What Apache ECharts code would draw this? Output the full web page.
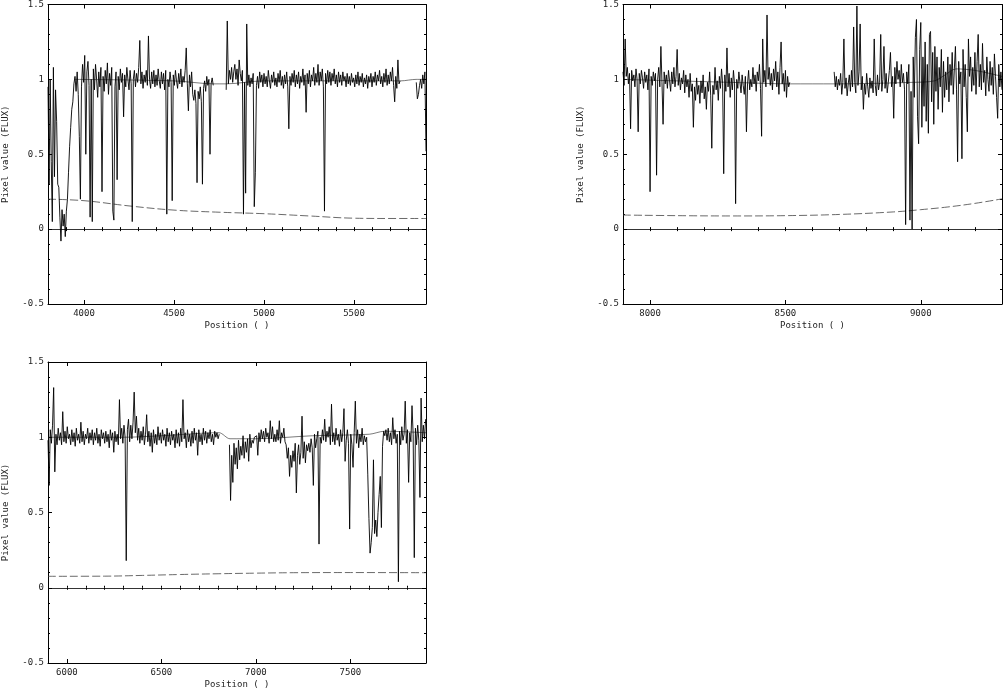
<!DOCTYPE html>
<html>
<head>
<meta charset="utf-8">
<title>Spectrum</title>
<script src="https://cdn.jsdelivr.net/npm/echarts@6/dist/echarts.min.js"></script>
<style>
  html, body { margin: 0; padding: 0; background: #fff; }
  #chart { width: 1003px; height: 690px; }
</style>
</head>
<body>
<div id="chart"></div>
<script>
// sampling grid of each panel (wavelength start / step)
var blueStart = 3800, blueStep = 6;
var redStart = 7900, redStep = 4;
var midStart = 5900, midStep = 6;

// flux, null = no data
var blueFlux = [
  0.95, 0.30, 1.00, 0.45, 0.05, 1.08, 0.35, 0.93, 0.72, 0.30,
  0.28, 0.08, -0.08, 0.13, 0.02, 0.10, -0.05, 0.12, 0.20, 0.38,
  0.55, 0.68, 0.80, 0.85, 0.97, 1.02, 0.92, 1.05, 0.90, 0.62,
  0.20, 0.95, 1.10, 0.98, 1.16, 0.50, 1.05, 1.12, 0.96, 0.08,
  1.00, 0.05, 1.07, 0.93, 1.10, 1.00, 0.88, 1.05, 0.95, 1.08,
  0.25, 1.02, 0.92, 1.06, 0.97, 1.11, 0.90, 1.04, 0.96, 1.08,
  0.12, 0.06, 0.95, 1.05, 0.33, 1.02, 0.93, 1.07, 0.98, 1.04,
  0.75, 1.03, 0.95, 1.08, 1.00, 0.93, 1.06, 0.97, 0.05, 1.00,
  1.06, 0.95, 1.04, 0.98, 1.08, 1.26, 0.97, 1.05, 0.94, 1.03,
  0.98, 1.06, 0.96, 1.29, 1.00, 0.94, 1.05, 0.97, 1.06, 0.95,
  1.03, 0.96, 1.07, 0.99, 0.94, 1.05, 0.97, 1.04, 0.93, 1.06,
  0.10, 1.00, 0.95, 1.05, 0.98, 0.19, 1.03, 0.96, 1.06, 0.99,
  0.94, 1.04, 0.97, 1.07, 0.95, 1.02, 0.98, 1.06, 1.21, 0.97,
  0.79, 1.03, 0.95, 1.05, 0.90, 0.86, 0.93, 0.84, 0.31, 0.92,
  0.87, 0.95, 0.85, 0.30, 0.94, 0.99, 0.92, 1.02, 0.96, 1.00,
  0.50, 0.97, 1.01, 0.96, null, null, null, null, null, null,
  null, null, null, null, null, 0.93, 1.39, 0.97, 1.06, 1.00,
  1.08, 0.98, 1.05, 1.10, 1.00, 1.07, 0.96, 1.13, 1.04, 0.99,
  1.06, 0.10, 0.98, 0.24, 1.37, 0.96, 1.03, 0.95, 1.01, 0.97,
  1.04, 0.15, 0.38, 0.96, 1.02, 0.94, 1.05, 0.98, 1.03, 0.95,
  1.04, 0.97, 1.02, 0.95, 1.06, 0.99, 0.94, 1.03, 0.98, 1.05,
  0.96, 1.01, 0.95, 1.04, 0.98, 1.06, 0.96, 1.02, 0.94, 1.03,
  0.97, 1.05, 0.95, 0.67, 1.02, 0.96, 1.04, 0.98, 1.06, 0.95,
  1.03, 0.97, 1.05, 0.94, 1.02, 0.98, 1.07, 0.96, 1.03, 0.78,
  1.04, 0.97, 1.06, 0.95, 1.03, 0.99, 1.08, 0.96, 1.04, 0.98,
  1.10, 0.96, 1.05, 0.99, 1.07, 0.95, 0.12, 1.04, 0.97, 1.06,
  0.98, 1.05, 0.96, 1.04, 0.99, 1.07, 0.97, 1.03, 0.95, 1.05,
  0.98, 1.03, 0.96, 1.05, 0.99, 1.02, 0.95, 1.04, 0.97, 1.02,
  0.96, 1.04, 0.98, 1.01, 0.95, 1.03, 0.97, 1.05, 0.96, 1.02,
  0.98, 1.04, 0.95, 1.01, 0.97, 1.03, 0.94, 1.02, 0.98, 1.04,
  0.95, 1.02, 0.98, 1.05, 0.96, 1.03, 0.99, 1.06, 0.97, 1.02,
  0.95, 1.04, 0.98, 1.07, 0.96, 1.03, 0.97, 1.05, 0.99, 1.08,
  0.96, 0.85, 1.02, 0.94, 1.13, 0.97, 0.99, null, null, null,
  null, null, null, null, null, null, null, null, null, null,
  null, 0.98, 0.87, 0.90, 0.96, 1.00, 0.94, 1.03, 0.97, 1.05,
  0.52
];

var redFlux = [
  1.05, 0.96, 1.27, 1.02, 1.08, 0.97, 1.04, 0.67, 1.06, 0.99,
  1.03, 0.95, 1.07, 1.00, 0.65, 1.04, 0.97, 1.06, 1.01, 0.94,
  1.05, 0.98, 1.03, 0.93, 1.07, 0.25, 1.02, 0.96, 1.05, 0.99,
  1.04, 0.36, 1.00, 1.08, 0.95, 1.22, 0.98, 0.70, 1.05, 0.97,
  1.03, 0.94, 1.06, 0.99, 0.92, 1.05, 0.97, 1.08, 0.95, 1.02,
  1.20, 0.96, 1.04, 0.93, 1.01, 0.97, 1.06, 0.91, 1.03, 0.95,
  1.00, 0.88, 1.04, 0.92, 0.97, 0.68, 0.95, 0.86, 1.01, 0.90,
  0.96, 0.84, 0.99, 0.91, 1.03, 0.87, 0.95, 0.80, 0.98, 0.92,
  1.05, 0.89, 0.54, 0.96, 0.90, 1.08, 0.93, 0.99, 0.86, 1.02,
  0.94, 1.07, 0.97, 0.37, 1.03, 0.92, 1.21, 0.95, 1.04, 0.88,
  1.01, 0.93, 1.06, 0.97, 0.17, 1.00, 0.94, 1.05, 0.98, 0.91,
  1.03, 0.96, 0.90, 1.02, 0.65, 0.97, 1.06, 0.93, 1.00, 0.95,
  1.08, 0.97, 1.03, 0.92, 1.05, 0.99, 1.10, 0.94, 0.62, 1.27,
  0.98, 1.06, 0.95, 1.43, 1.00, 1.08, 0.96, 1.04, 0.93, 1.07,
  0.99, 1.12, 0.95, 1.05, 0.90, 1.08, 1.25, 0.97, 1.04, 0.92,
  1.06, 0.88, 1.02, 0.95, 0.98, null, null, null, null, null,
  null, null, null, null, null, null, null, null, null, null,
  null, null, null, null, null, null, null, null, null, null,
  null, null, null, null, null, null, null, null, null, null,
  null, null, null, null, null, 1.05, 0.95, 1.02, 0.93, 1.00,
  0.96, 1.04, 0.90, 0.98, 1.27, 0.94, 1.01, 0.89, 0.97, 1.03,
  0.92, 1.06, 0.95, 1.35, 0.98, 0.91, 1.49, 0.96, 1.05, 1.37,
  0.93, 1.02, 0.80, 0.97, 0.90, 1.04, 0.95, 0.88, 1.01, 0.94,
  0.99, 0.91, 1.27, 0.96, 0.89, 1.03, 0.93, 0.98, 1.30, 0.92,
  1.00, 1.22, 0.94, 1.04, 0.91, 0.98, 1.06, 1.18, 0.95, 1.02,
  0.74, 1.08, 0.97, 1.12, 1.00, 1.06, 0.95, 1.10, 0.98, 1.04,
  0.93, 0.03, 1.05, 0.97, 1.10, 0.06, 0.92, 0.00, 1.15, 0.88,
  1.28, 1.40, 0.75, 0.57, 1.20, 1.38, 0.68, 1.15, 0.82, 1.25,
  0.72, 1.10, 0.64, 1.30, 1.32, 0.85, 1.18, 0.70, 1.22, 0.92,
  1.15, 0.80, 1.08, 0.95, 1.20, 0.78, 1.12, 0.88, 1.05, 0.93,
  1.15, 0.85, 1.10, 0.96, 1.18, 0.90, 1.07, 1.22, 0.93, 0.45,
  1.12, 0.97, 1.05, 0.47, 1.20, 0.95, 1.10, 0.88, 0.65, 1.27,
  1.02, 1.15, 0.92, 1.08, 0.96, 1.18, 0.90, 1.12, 1.30, 0.95,
  1.10, 0.93, 1.24, 0.98, 1.06, 0.89, 1.15, 1.00, 0.92, 1.12,
  0.96, 1.08, 0.90, 1.17, 1.02, 0.88, 0.74, 1.10, 0.95, 1.05,
  0.93
];

var midFlux = [
  0.98, 0.68, 1.05, 0.96, 1.08, 1.33, 0.77, 1.02, 0.95, 1.06,
  0.98, 1.03, 0.95, 1.17, 0.97, 1.04, 0.96, 1.07, 0.99, 1.02,
  0.95, 1.05, 0.97, 1.03, 0.94, 1.06, 0.98, 1.02, 0.96, 1.10,
  0.97, 1.04, 0.95, 1.02, 0.99, 1.06, 0.96, 1.03, 0.98, 1.05,
  0.95, 1.03, 0.98, 1.06, 0.96, 1.02, 0.94, 1.05, 0.99, 1.03,
  0.96, 1.04, 0.97, 1.02, 0.93, 1.05, 0.98, 1.03, 0.90, 1.04,
  0.97, 1.02, 0.95, 1.25, 0.99, 1.06, 0.96, 1.08, 1.00, 0.18,
  1.05, 1.12, 0.97, 1.08, 0.99, 1.10, 1.30, 1.03, 1.14, 0.98,
  1.06, 0.96, 1.04, 0.98, 1.07, 0.95, 1.02, 1.15, 0.97, 1.04,
  0.94, 1.03, 0.90, 1.05, 0.96, 1.02, 0.95, 1.07, 0.98, 1.03,
  0.96, 1.05, 0.98, 1.02, 0.94, 1.06, 0.97, 1.03, 0.95, 1.04,
  0.98, 1.02, 0.93, 1.05, 0.96, 1.03, 0.94, 1.06, 0.97, 1.25,
  0.99, 1.03, 0.93, 1.05, 0.97, 1.02, 0.94, 1.04, 0.96, 1.06,
  0.98, 1.03, 0.88, 1.05, 0.97, 1.02, 0.95, 1.06, 0.98, 1.04,
  0.96, 1.03, 0.99, 1.05, 0.97, 1.02, 0.95, 1.04, 1.00, 1.03,
  0.99, 1.02, null, null, null, null, null, null, null, null,
  0.95, 0.58, 0.88, 0.70, 0.96, 0.82, 0.93, 0.79, 0.98, 0.85,
  0.94, 0.88, 1.01, 0.86, 0.97, 0.90, 0.99, 0.84, 1.02, 0.93,
  0.98, 0.96, 1.00, 0.99, 1.01, 0.88, 1.03, 0.97, 1.05, 0.99,
  1.04, 0.97, 1.06, 1.00, 1.03, 0.96, 1.11, 0.99, 1.07, 0.97,
  1.02, 0.97, 1.05, 0.98, 1.11, 0.96, 1.03, 1.00, 1.06, 0.97,
  0.95, 0.86, 0.93, 0.74, 0.88, 0.80, 0.91, 0.84, 0.96, 0.63,
  0.88, 0.95, 0.82, 0.90, 1.14, 0.86, 0.97, 0.83, 0.95, 0.91,
  0.96, 0.90, 0.99, 0.93, 0.68, 1.02, 0.93, 0.99, 1.04, 0.29,
  1.00, 0.96, 1.05, 0.98, 1.12, 0.97, 1.04, 1.00, 1.07, 0.95,
  1.22, 0.97, 1.03, 0.95, 1.06, 0.98, 1.02, 0.94, 1.05, 0.97,
  1.03, 1.19, 0.84, 0.98, 1.05, 0.96, 0.39, 1.02, 0.95, 0.80,
  1.03, 1.24, 0.96, 1.05, 0.93, 1.02, 0.97, 1.06, 0.95, 1.01,
  0.97, 1.00, 0.75, 0.46, 0.23, 0.30, 0.40, 0.85, 0.36, 0.45,
  0.34, 0.50, 0.62, 0.74, 0.40, 0.94, 1.04, 1.01, 1.05, 0.98,
  1.06, 0.97, 1.03, 0.95, 1.13, 0.99, 1.05, 0.96, 1.02, 0.04,
  1.04, 0.95, 1.07, 0.98, 1.02, 1.24, 0.96, 1.05, 0.70, 1.03,
  0.97, 1.21, 1.02, 0.20, 1.06, 0.95, 1.08, 0.98, 0.60, 1.26,
  0.97, 1.08, 0.99, 1.12
];

// continuum fit (thin line) and error spectrum (dashed), knots
var blueCont = [[3950, 1.00], [4500, 0.99], [4722, 0.97], [4788, 0.97], [5000, 0.99], [5760, 0.99], [5845, 1.00], [5900, 1.00]];
var redCont = [[7900, 1.00], [8300, 0.98], [8518, 0.97], [8680, 0.97], [8968, 0.98], [9050, 0.99], [9090, 1.03], [9130, 1.07], [9200, 1.06], [9300, 1.02]];
var midCont = [[5900, 1.00], [6300, 1.00], [6500, 1.01], [6805, 1.03], [6863, 0.99], [7000, 0.99], [7300, 1.01], [7600, 1.02], [7680, 1.04], [7900, 1.03]];

var blueErr = [[3800, 0.200], [4000, 0.190], [4250, 0.155], [4500, 0.127], [4750, 0.113], [5000, 0.103], [5250, 0.088], [5500, 0.073], [5700, 0.071], [5900, 0.071]];
var redErr = [[7900, 0.094], [8100, 0.090], [8300, 0.088], [8500, 0.090], [8700, 0.098], [8900, 0.115], [9000, 0.130], [9100, 0.148], [9200, 0.172], [9300, 0.202]];
var midErr = [[5900, 0.076], [6200, 0.077], [6400, 0.082], [6600, 0.088], [6800, 0.093], [7000, 0.097], [7200, 0.100], [7500, 0.101], [7900, 0.100]];

var blueMajor = [4000, 4500, 5000, 5500];
var redMajor = [8000, 8500, 9000];
var midMajor = [6000, 6500, 7000, 7500];

var font = 'DejaVu Sans Mono';
var ink = '#000';
var txt = { fontFamily: font, fontSize: 9, color: '#222' };

var panels = [
  { grid: { left: 47, top: 4, width: 379, height: 300 }, min: 3800, max: 5900, major: blueMajor,
    start: blueStart, step: blueStep, flux: blueFlux, cont: blueCont, err: blueErr },
  { grid: { left: 623, top: 4, width: 379, height: 300 }, min: 7900, max: 9300, major: redMajor,
    start: redStart, step: redStep, flux: redFlux, cont: redCont, err: redErr },
  { grid: { left: 47, top: 362, width: 379, height: 301 }, min: 5900, max: 7900, major: midMajor,
    start: midStart, step: midStep, flux: midFlux, cont: midCont, err: midErr }
];

function plain(v) { return String(v); }

var grids = [], xAxes = [], yAxes = [], series = [];

panels.forEach(function (p, k) {
  grids.push(p.grid);
  var xMain = xAxes.length;
  ['bottom', 'top'].forEach(function (pos) {
    xAxes.push({
      gridIndex: k, type: 'value', min: p.min, max: p.max, position: pos,
      axisLine: { show: true, onZero: false, lineStyle: { color: ink, width: 1 } },
      axisTick: { show: true, inside: true, length: 4, customValues: p.major, lineStyle: { color: ink } },
      axisLabel: pos === 'bottom' ? Object.assign({ show: true, margin: 5, customValues: p.major, formatter: plain }, txt) : { show: false },
      splitLine: { show: false },
      name: pos === 'bottom' ? 'Position ( )' : '',
      nameLocation: 'middle', nameGap: 17,
      nameTextStyle: Object.assign({}, txt)
    });
    // minor ticks every 100
    xAxes.push({
      gridIndex: k, type: 'value', min: p.min, max: p.max, interval: 100, position: pos,
      axisLine: { show: false },
      axisTick: { show: true, inside: true, length: 2, lineStyle: { color: ink } },
      axisLabel: { show: false }, splitLine: { show: false }
    });
  });
  var yMain = yAxes.length;
  ['left', 'right'].forEach(function (pos) {
    yAxes.push({
      gridIndex: k, type: 'value', min: -0.5, max: 1.5, interval: 0.5, position: pos,
      axisLine: { show: true, onZero: false, lineStyle: { color: ink, width: 1 } },
      axisTick: { show: true, inside: true, length: 4, lineStyle: { color: ink } },
      minorTick: { show: true, splitNumber: 5, length: 2, lineStyle: { color: ink } },
      axisLabel: pos === 'left' ? Object.assign({ show: true, margin: 4, formatter: plain }, txt) : { show: false },
      splitLine: { show: false },
      name: pos === 'left' ? 'Pixel value (FLUX)' : '',
      nameLocation: 'middle', nameGap: 38, nameRotate: 90,
      nameTextStyle: Object.assign({}, txt)
    });
  });

  var pts = p.flux.map(function (v, i) { return [p.start + i * p.step, v]; });
  series.push({
    type: 'line', xAxisIndex: xMain, yAxisIndex: yMain, data: pts,
    showSymbol: false, connectNulls: false, sampling: null,
    lineStyle: { color: ink, width: 0.9 },
    markLine: {
      silent: true, symbol: 'none', animation: false,
      label: { show: false },
      lineStyle: { color: ink, type: 'solid', width: 0.8 },
      data: [{ yAxis: 0 }]
    },
    z: 3
  });
  series.push({
    type: 'line', xAxisIndex: xMain, yAxisIndex: yMain, data: p.cont,
    showSymbol: false, smooth: 0.3, lineStyle: { color: '#222', width: 0.6 }, z: 2
  });
  series.push({
    type: 'line', xAxisIndex: xMain, yAxisIndex: yMain, data: p.err,
    showSymbol: false, smooth: 0.4, lineStyle: { color: '#444', width: 0.8, type: [8, 3] }, z: 2
  });
});

var chart = echarts.init(document.getElementById('chart'), null, { renderer: 'canvas' });
chart.setOption({
  animation: false,
  backgroundColor: '#fff',
  grid: grids,
  xAxis: xAxes,
  yAxis: yAxes,
  series: series
});
</script>
</body>
</html>
